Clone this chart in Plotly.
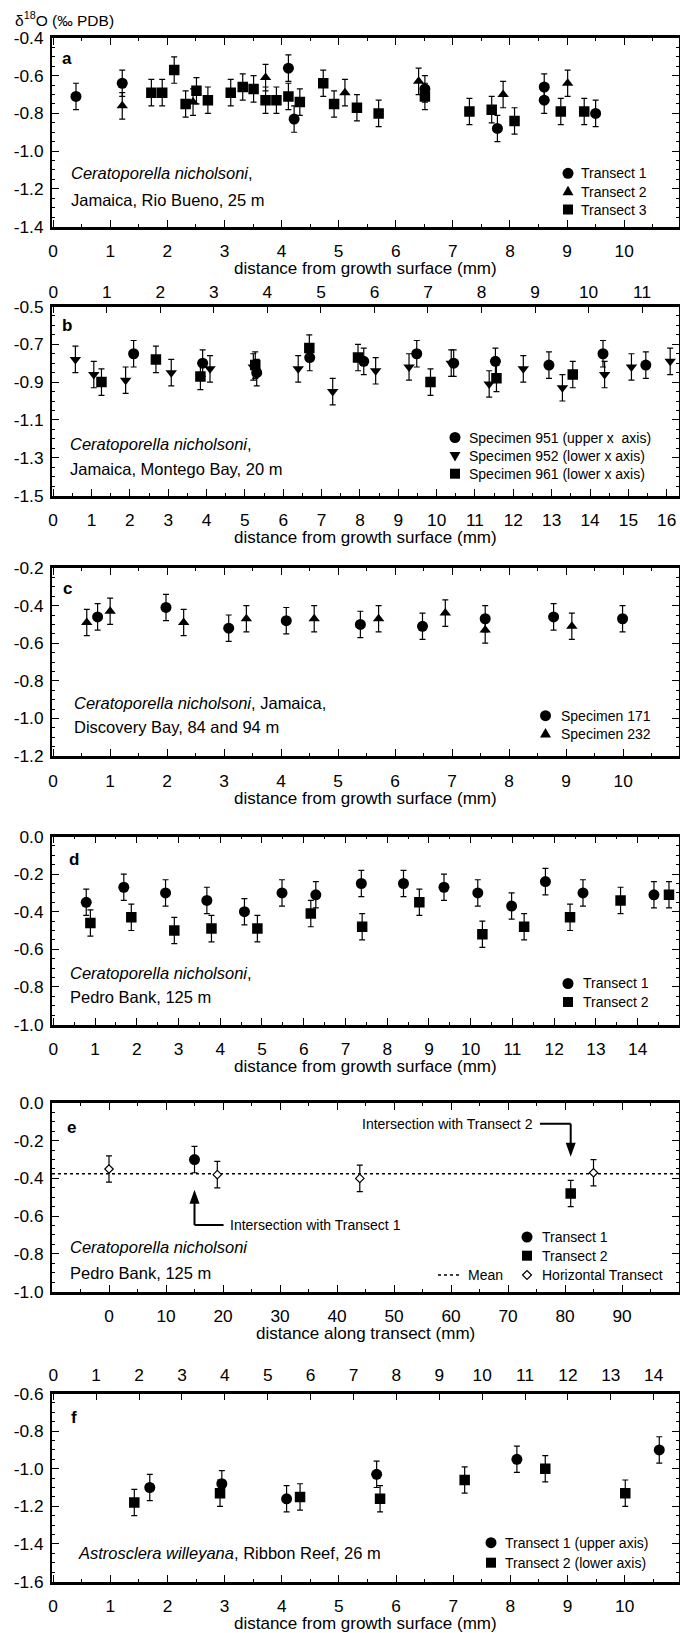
import plotly.graph_objects as go

# ---------------- data ----------------
ERR = 0.07  # analytical error bar (+/-, per mil)

# Panel a - Ceratoporella nicholsoni, Jamaica, Rio Bueno, 25 m
A_T1_X = [0.40, 1.21, 4.12, 4.22, 6.51, 7.78, 8.60, 8.60, 9.50]
A_T1_Y = [-0.71, -0.64, -0.56, -0.83, -0.67, -0.88, -0.66, -0.73, -0.80]
A_T2_X = [1.21, 2.45, 3.72, 5.11, 6.40, 7.88, 9.01]
A_T2_Y = [-0.76, -0.74, -0.61, -0.69, -0.63, -0.70, -0.64]
A_T3_X = [1.72, 1.91, 2.12, 2.32, 2.51, 2.71, 3.11, 3.32, 3.51, 3.72, 3.91, 4.12,
          4.32, 4.73, 4.92, 5.32, 5.70, 6.51, 7.29, 7.68, 8.08, 8.89, 9.30]
A_T3_Y = [-0.69, -0.69, -0.57, -0.75, -0.68, -0.73, -0.69, -0.66, -0.67, -0.73, -0.73, -0.71,
          -0.74, -0.64, -0.75, -0.77, -0.80, -0.71, -0.79, -0.78, -0.84, -0.79, -0.79]

# Panel b - Montego Bay, 20 m
B_951_X = [1.50, 2.79, 3.80, 4.79, 5.80, 6.79, 7.48, 8.26, 9.26, 10.27, 11.07]   # upper axis
B_951_Y = [-0.75, -0.80, -0.85, -0.77, -0.79, -0.75, -0.80, -0.79, -0.81, -0.75, -0.81]
B_952_X = [0.58, 1.06, 1.89, 3.08, 4.09, 5.22, 6.39, 7.29, 8.41, 9.28, 10.38, 11.37,
           12.26, 13.28, 14.38, 15.08, 16.09]                                    # lower axis
B_952_Y = [-0.78, -0.86, -0.89, -0.85, -0.83, -0.82, -0.83, -0.95, -0.84, -0.82, -0.80, -0.91,
           -0.83, -0.93, -0.86, -0.82, -0.79]
B_961_X = [1.26, 2.68, 3.84, 5.27, 6.68, 7.95, 9.84, 11.56, 13.55]               # lower axis
B_961_Y = [-0.90, -0.78, -0.87, -0.81, -0.72, -0.77, -0.90, -0.88, -0.86]

# Panel c - Discovery Bay, 84 and 94 m
C_171_X = [0.78, 1.98, 3.08, 4.09, 5.39, 6.48, 7.58, 8.78, 9.99]
C_171_Y = [-0.46, -0.41, -0.52, -0.48, -0.50, -0.51, -0.47, -0.46, -0.47]
C_232_X = [0.59, 1.00, 2.29, 3.39, 4.58, 5.71, 6.88, 7.58, 9.10]
C_232_Y = [-0.49, -0.43, -0.49, -0.47, -0.47, -0.47, -0.44, -0.53, -0.51]

# Panel d - Pedro Bank, 125 m
D_T1_X = [0.79, 1.69, 2.69, 3.68, 4.58, 5.48, 6.29, 7.38, 8.39, 9.36, 10.17, 10.98, 11.79, 12.69, 14.39]
D_T1_Y = [-0.35, -0.27, -0.30, -0.34, -0.40, -0.30, -0.31, -0.25, -0.25, -0.27, -0.30, -0.37, -0.24, -0.30, -0.31]
D_T2_X = [0.89, 1.87, 2.90, 3.79, 4.89, 6.17, 7.40, 8.77, 10.28, 11.28, 12.38, 13.59, 14.75]
D_T2_Y = [-0.46, -0.43, -0.50, -0.49, -0.49, -0.41, -0.48, -0.35, -0.52, -0.48, -0.43, -0.34, -0.31]

# Panel e - horizontal transect, Pedro Bank
E_H_X = [0, 19, 44, 85]
E_H_Y = [-0.35, -0.38, -0.40, -0.37]
E_T1_X = [15]
E_T1_Y = [-0.30]
E_T2_X = [81]
E_T2_Y = [-0.48]
E_MEAN = -0.375

# Panel f - Astrosclera willeyana, Ribbon Reef, 26 m
F_T1_X = [2.25, 3.93, 5.44, 7.54, 10.81, 14.13]          # upper axis
F_T1_Y = [-1.10, -1.08, -1.16, -1.03, -0.95, -0.90]
F_T2_X = [1.42, 2.92, 4.32, 5.72, 7.20, 8.61, 10.01]     # lower axis
F_T2_Y = [-1.18, -1.13, -1.15, -1.16, -1.06, -1.00, -1.13]

# tick values / labels
A_XTICKS = list(range(0, 11))
B_XTICKS = list(range(0, 17))
B_XTICKS_TOP = list(range(0, 12))
C_XTICKS = list(range(0, 11))
D_XTICKS = list(range(0, 15))
E_XTICKS = list(range(0, 100, 10))
F_XTICKS = list(range(0, 11))
F_XTICKS_TOP = list(range(0, 15))
A_YTICKS = [-1.4, -1.2, -1.0, -0.8, -0.6, -0.4]
B_YTICKS = [-1.5, -1.3, -1.1, -0.9, -0.7, -0.5]
C_YTICKS = [-1.2, -1.0, -0.8, -0.6, -0.4, -0.2]
D_YTICKS = [-1.0, -0.8, -0.6, -0.4, -0.2, 0.0]
E_YTICKS = [-1.0, -0.8, -0.6, -0.4, -0.2, 0.0]
F_YTICKS = [-1.6, -1.4, -1.2, -1.0, -0.8, -0.6]

# ---------------- layout helpers ----------------
W, H = 680, 1633
ML, MR = 52, 1
PW = W - ML - MR
FONT = "Liberation Sans, Arial, Helvetica, sans-serif"
TICKSZ = 17.3


def px(x):
    return (x - ML) / PW


def py(y):
    return 1 - y / H


PANELS = {  # top, bottom in pixels
    "a": (38, 226.5), "b": (306.5, 495.5), "c": (568, 756),
    "d": (836.5, 1024.5), "e": (1103, 1291.5), "f": (1393.5, 1581.5),
}


def dom(p):
    t, b = PANELS[p]
    return [py(b), py(t)]


ebar = dict(type="constant", value=ERR, color="black", thickness=1.2, width=3)
SIZES = {"circle": 11, "square": 10.5, "triangle-up": 10, "triangle-down": 10, "diamond": 6.5}


def pts(x, y, xa, ya, sym, name, color="black", line=None):
    m = dict(symbol=sym, size=SIZES[sym], color=color)
    m["line"] = line if line else dict(width=0)
    return go.Scatter(x=x, y=y, xaxis=xa, yaxis=ya, mode="markers", marker=m,
                      error_y=ebar, name=name, showlegend=False)


fig = go.Figure()
# a
fig.add_trace(pts(A_T1_X, A_T1_Y, "x", "y", "circle", "Transect 1"))
fig.add_trace(pts(A_T2_X, A_T2_Y, "x", "y", "triangle-up", "Transect 2"))
fig.add_trace(pts(A_T3_X, A_T3_Y, "x", "y", "square", "Transect 3"))
# b
fig.add_trace(pts(B_951_X, B_951_Y, "x3", "y2", "circle", "Specimen 951 (upper x axis)"))
fig.add_trace(pts(B_952_X, B_952_Y, "x2", "y2", "triangle-down", "Specimen 952 (lower x axis)"))
fig.add_trace(pts(B_961_X, B_961_Y, "x2", "y2", "square", "Specimen 961 (lower x axis)"))
# c
fig.add_trace(pts(C_171_X, C_171_Y, "x4", "y3", "circle", "Specimen 171"))
fig.add_trace(pts(C_232_X, C_232_Y, "x4", "y3", "triangle-up", "Specimen 232"))
# d
fig.add_trace(pts(D_T1_X, D_T1_Y, "x5", "y4", "circle", "Transect 1"))
fig.add_trace(pts(D_T2_X, D_T2_Y, "x5", "y4", "square", "Transect 2"))
# e
E_RANGE = [-10, 100]
fig.add_trace(go.Scatter(x=E_RANGE, y=[E_MEAN, E_MEAN], xaxis="x6", yaxis="y5", mode="lines",
                         line=dict(color="black", width=1.6, dash="dot"), name="Mean",
                         showlegend=False))
fig.add_trace(pts(E_T1_X, E_T1_Y, "x6", "y5", "circle", "Transect 1"))
fig.add_trace(pts(E_T2_X, E_T2_Y, "x6", "y5", "square", "Transect 2"))
fig.add_trace(pts(E_H_X, E_H_Y, "x6", "y5", "diamond", "Horizontal Transect",
                  color="white", line=dict(color="black", width=1.2)))
# f
fig.add_trace(pts(F_T1_X, F_T1_Y, "x8", "y6", "circle", "Transect 1 (upper axis)"))
fig.add_trace(pts(F_T2_X, F_T2_Y, "x7", "y6", "square", "Transect 2 (lower axis)"))


def lab(v):
    return ("%.1f" % v).replace("-0.0", "0.0")


def yax(rng, p, ticks):
    return dict(range=rng, domain=dom(p), tickmode="array", tickvals=ticks,
                ticktext=[lab(v) for v in ticks],
                ticks="inside", ticklen=7, tickwidth=1.3, tickcolor="black",
                showline=True, linewidth=2, linecolor="black", mirror="ticks",
                showgrid=False, zeroline=False, tickfont=dict(size=TICKSZ, color="black"),
                ticklabelstandoff=3,
                minor=dict(ticks="inside", ticklen=3, dtick=0.05, tick0=rng[0], tickwidth=1,
                           tickcolor="black"))


def xax(rng, anchor, tickvals, mirror="ticks", minor_dt=0.5):
    return dict(range=rng, anchor=anchor, tickmode="array", tickvals=tickvals,
                ticks="inside", ticklen=7, tickwidth=1.3, tickcolor="black",
                showline=True, linewidth=2.5, linecolor="black", mirror=mirror,
                showgrid=False, zeroline=False, tickfont=dict(size=TICKSZ, color="black"),
                ticklabelstandoff=7,
                minor=dict(ticks="inside", ticklen=3, dtick=minor_dt, tick0=0, tickwidth=1,
                           tickcolor="black"))


def xtop(rng, anchor, over, tickvals, standoff):
    return dict(range=rng, anchor=anchor, overlaying=over, side="top", tickmode="array",
                tickvals=tickvals, ticks="inside", ticklen=7, tickwidth=1.3, tickcolor="black",
                showline=True, linewidth=2.5, linecolor="black", showgrid=False, zeroline=False,
                tickfont=dict(size=TICKSZ, color="black"), ticklabelstandoff=standoff)


lay = dict(
    width=W, height=H, margin=dict(l=ML, r=MR, t=0, b=0, autoexpand=False),
    paper_bgcolor="white", plot_bgcolor="white", showlegend=False,
    font=dict(family=FONT, color="black", size=14),
    xaxis=xax([-0.02, 10.96], "y", A_XTICKS),
    yaxis=yax([-1.4, -0.4], "a", A_YTICKS),
    xaxis2=xax([-0.03, 16.32], "y2", B_XTICKS, mirror=True),
    xaxis3=xtop([-0.025, 11.69], "y2", "x2", B_XTICKS_TOP, -1),
    yaxis2=yax([-1.5, -0.5], "b", B_YTICKS),
    xaxis4=xax([-0.02, 10.98], "y3", C_XTICKS),
    yaxis3=yax([-1.2, -0.2], "c", C_YTICKS),
    xaxis5=xax([-0.03, 14.99], "y4", D_XTICKS),
    yaxis4=yax([-1.0, 0.0], "d", D_YTICKS),
    xaxis6=xax(E_RANGE, "y5", E_XTICKS, minor_dt=5),
    yaxis5=yax([-1.0, 0.0], "e", E_YTICKS),
    xaxis7=xax([-0.02, 10.95], "y6", F_XTICKS, mirror=True),
    xaxis8=xtop([-0.03, 14.59], "y6", "x7", F_XTICKS_TOP, 3),
    yaxis6=yax([-1.6, -0.6], "f", F_YTICKS),
)
fig.update_layout(**lay)

ann = []
shapes = []


def text(x, y, s, size=16.5, anchor="left", bold=False):
    ann.append(dict(x=px(x), y=py(y), xref="paper", yref="paper", text=("<b>%s</b>" % s) if bold else s,
                    showarrow=False, xanchor=anchor, yanchor="middle",
                    font=dict(size=size, family=FONT, color="black")))


# ---- legend keys (pixel-sized glyphs anchored in paper space) ----
GLYPH = {
    "circle": ("circle", None),
    "square": ("rect", None),
    "triangle-up": ("path", "M -5.5,-3.5 L 5.5,-3.5 L 0,6 Z"),
    "triangle-down": ("path", "M -5.5,3.5 L 5.5,3.5 L 0,-6 Z"),
    "diamond": ("path", "M -4.5,0 L 0,4.5 L 4.5,0 L 0,-4.5 Z"),
}


def key(mx, y, sym, fill="black"):
    kind, path = GLYPH[sym]
    d = dict(type=kind, xref="paper", yref="paper", xsizemode="pixel", ysizemode="pixel",
             xanchor=px(mx), yanchor=py(y), fillcolor=fill,
             line=dict(color="black", width=1.2 if fill == "white" else 0))
    if kind == "path":
        d["path"] = path
    else:
        r = 5.5 if kind == "circle" else 5
        d.update(x0=-r, x1=r, y0=-r, y1=r)
    shapes.append(d)


def legend(mx, tx, rows):
    for y, sym, label in rows:
        key(mx, y, sym, "white" if sym == "diamond" else "black")
        text(tx, y, label, size=14)


legend(568, 579, [(173.3, "circle", "Transect 1"), (191.7, "triangle-up", "Transect 2"),
                  (209.5, "square", "Transect 3")])
legend(455, 467, [(437.5, "circle", "Specimen 951 (upper x\u00a0 axis)"),
                  (455.5, "triangle-down", "Specimen 952 (lower x axis)"),
                  (473.7, "square", "Specimen 961 (lower x axis)")])
legend(545.5, 559, [(715.7, "circle", "Specimen 171"), (734, "triangle-up", "Specimen 232")])
legend(568, 581, [(983.5, "circle", "Transect 1"), (1002, "square", "Transect 2")])
legend(527, 540, [(1237, "circle", "Transect 1"), (1255.7, "square", "Transect 2"),
                  (1275, "diamond", "Horizontal Transect")])
shapes.append(dict(type="line", xref="paper", yref="paper", x0=px(438), x1=px(460),
                   y0=py(1275), y1=py(1275), line=dict(color="black", width=1.6, dash="dot")))
text(466, 1275, "Mean", size=14)
legend(491, 503, [(1542.7, "circle", "Transect 1 (upper axis)"),
                  (1562.7, "square", "Transect 2 (lower axis)")])

text(13, 19, "\u03b4<sup>18</sup>O (\u2030 PDB)", size=15.5)
# panel letters
for p, (lx, ly) in {"a": (67, 58), "b": (67, 325), "c": (67, 589), "d": (74, 859),
                    "e": (71, 1127), "f": (74, 1417)}.items():
    text(lx, ly, p, size=17, anchor="center", bold=True)
# descriptions
text(69, 173.3, "<i>Ceratoporella nicholsoni</i>,")
text(69, 200, "Jamaica, Rio Bueno, 25 m")
text(68, 444, "<i>Ceratoporella nicholsoni</i>,")
text(68, 469, "Jamaica, Montego Bay, 20 m")
text(72, 702.7, "<i>Ceratoporella nicholsoni</i>, Jamaica,")
text(72, 726.7, "Discovery Bay, 84 and 94 m")
text(68, 973.3, "<i>Ceratoporella nicholsoni</i>,")
text(68, 996.7, "Pedro Bank, 125 m")
text(68, 1246.7, "<i>Ceratoporella nicholsoni</i>")
text(68, 1273.3, "Pedro Bank, 125 m")
text(76, 1553.3, "<i>Astrosclera willeyana</i>, Ribbon Reef, 26 m")
# x-axis titles
for p in "abcdf":
    text(365, PANELS[p][1] + 42, "distance from growth surface (mm)", size=17, anchor="center")
text(365, PANELS["e"][1] + 42, "distance along transect (mm)", size=17, anchor="center")

# ---- panel e: intersection arrows (elbow lines + filled heads) ----
E_ARROW2 = dict(x=E_T2_X[0], tip=-0.285, top=-0.11, xbend=75.6, xtext=74.8)
E_ARROW1 = dict(x=E_T1_X[0], tip=-0.46, base=-0.647, xbend=20.1, xtext=20.8)
LN = dict(color="black", width=2)
shapes.append(dict(type="line", xref="x6", yref="y5", x0=E_ARROW2["xbend"], x1=E_ARROW2["x"],
                   y0=E_ARROW2["top"], y1=E_ARROW2["top"], line=LN))
shapes.append(dict(type="line", xref="x6", yref="y5", x0=E_ARROW2["x"], x1=E_ARROW2["x"],
                   y0=E_ARROW2["top"], y1=E_ARROW2["tip"] + 0.04, line=LN))
shapes.append(dict(type="path", xref="x6", yref="y5", xsizemode="pixel", ysizemode="pixel",
                   xanchor=E_ARROW2["x"], yanchor=E_ARROW2["tip"],
                   path="M -5,14 L 5,14 L 0,0 Z", fillcolor="black", line=dict(width=0)))
shapes.append(dict(type="line", xref="x6", yref="y5", x0=E_ARROW1["x"], x1=E_ARROW1["xbend"],
                   y0=E_ARROW1["base"], y1=E_ARROW1["base"], line=LN))
shapes.append(dict(type="line", xref="x6", yref="y5", x0=E_ARROW1["x"], x1=E_ARROW1["x"],
                   y0=E_ARROW1["base"], y1=E_ARROW1["tip"] - 0.04, line=LN))
shapes.append(dict(type="path", xref="x6", yref="y5", xsizemode="pixel", ysizemode="pixel",
                   xanchor=E_ARROW1["x"], yanchor=E_ARROW1["tip"],
                   path="M -5,-14 L 5,-14 L 0,0 Z", fillcolor="black", line=dict(width=0)))
ann.append(dict(x=E_ARROW2["xtext"], y=E_ARROW2["top"], xref="x6", yref="y5", showarrow=False,
                text="Intersection with Transect 2", xanchor="right", yanchor="middle",
                font=dict(size=14, family=FONT, color="black")))
ann.append(dict(x=E_ARROW1["xtext"], y=E_ARROW1["base"], xref="x6", yref="y5", showarrow=False,
                text="Intersection with Transect 1", xanchor="left", yanchor="middle",
                font=dict(size=14, family=FONT, color="black")))

fig.update_layout(annotations=ann, shapes=shapes)

fig.write_html("out.html", config={"displayModeBar": False},
               post_script="document.body.style.margin='0px';")
